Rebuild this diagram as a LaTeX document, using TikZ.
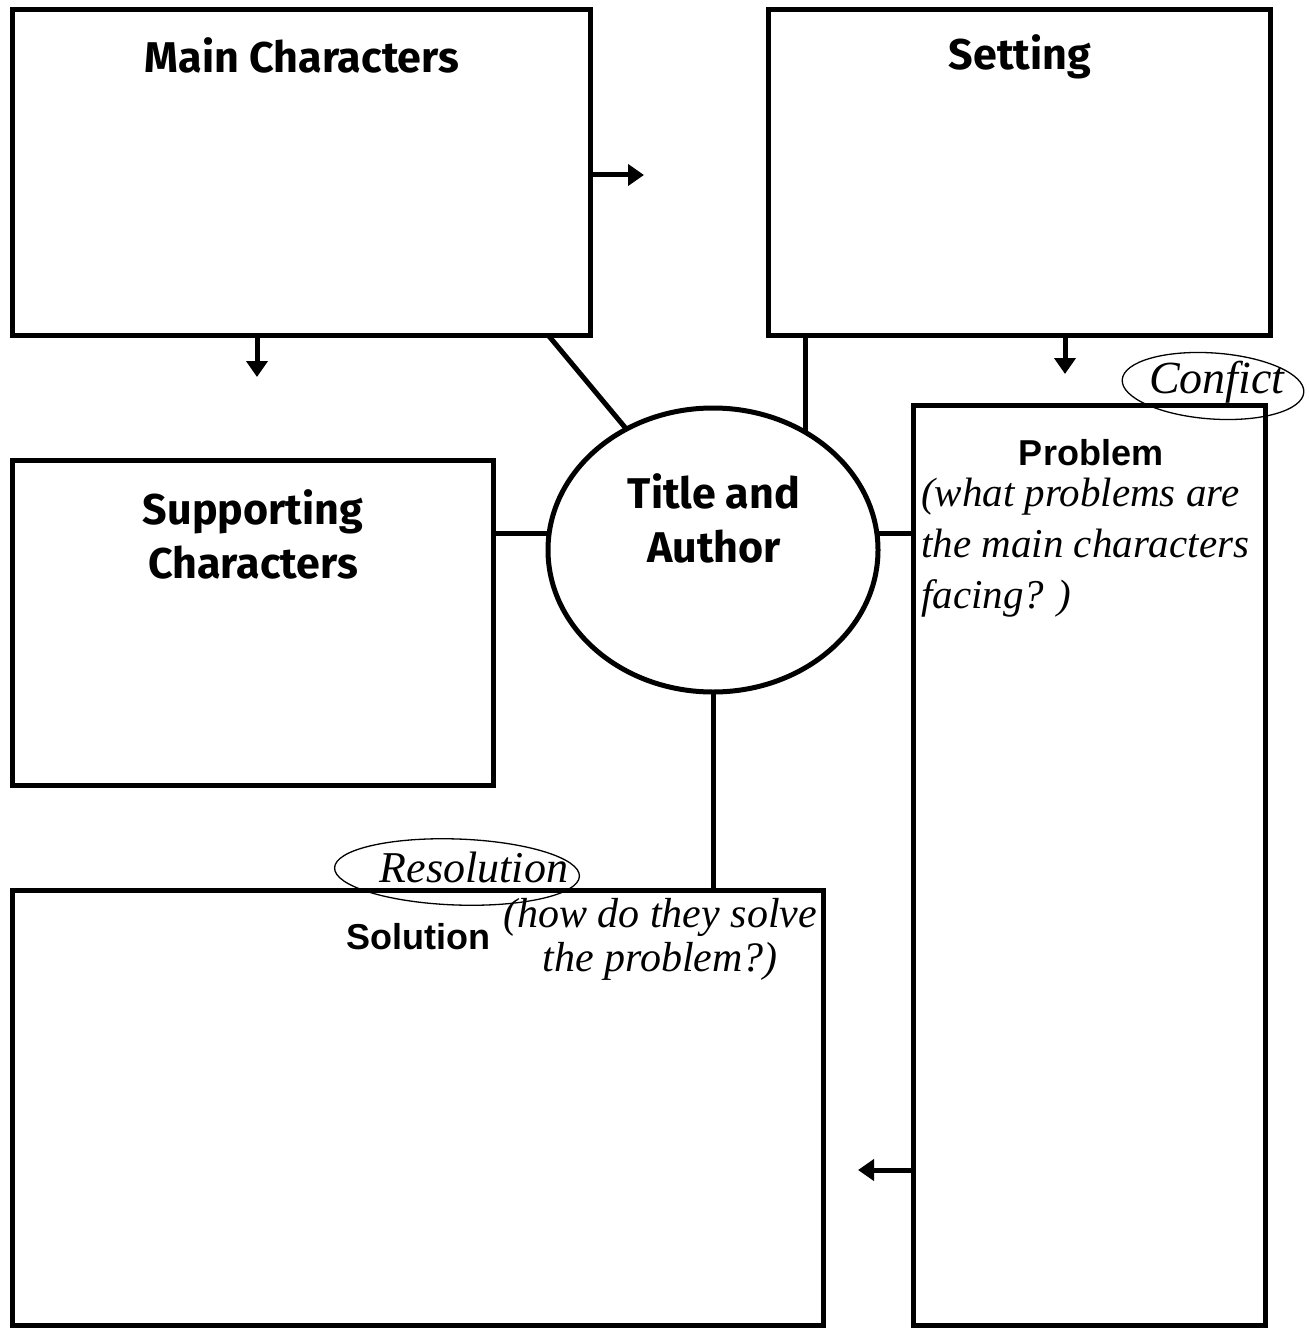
\documentclass[tikz,border=0pt]{standalone}
\usepackage{fontspec}
\setmainfont{Liberation Serif}
\newfontfamily\comicf{Fira Sans}
\newfontfamily\arialf{Liberation Sans}
\newfontfamily\handf{Liberation Serif}
\usetikzlibrary{arrows.meta,calc,shapes.geometric}
\pgfdeclarelayer{bg}
\pgfsetlayers{bg,main}
\begin{document}
\begin{tikzpicture}[x=1pt,y=-1pt,
  box/.style={draw,line width=5pt,rectangle,inner sep=0pt},
  ttl/.style={font=\comicf\bfseries\fontsize{43}{54}\selectfont,align=center,inner sep=0pt},
  ttlb/.style={font=\arialf\bfseries\fontsize{36}{40}\selectfont},
  hand/.style={font=\handf\itshape\fontsize{41}{51}\selectfont,align=left,inner sep=0pt},
  conn/.style={line width=5pt},
  arr/.style={line width=5pt,-{Triangle[length=16pt,width=21pt]}},
  note/.style={draw,line width=1.3pt,ellipse,inner sep=0pt}
]
\useasboundingbox (0,0) rectangle (1308,1332);
% boxes
\node[box,minimum width=578,minimum height=325] (mc) at (301,172.5) {};
\node[box,minimum width=502,minimum height=325] (st) at (1019,172.5) {};
\node[box,minimum width=481,minimum height=325] (sc) at (252.5,622.5) {};
\node[box,minimum width=352,minimum height=920] (pr) at (1089,865) {};
\node[box,minimum width=811,minimum height=435] (so) at (417.5,1107.5) {};
\node[draw,fill=white,line width=5pt,ellipse,minimum width=330,minimum height=284,inner sep=0pt] (ta) at (713,550) {};
% titles
\node[ttl] (tmc) at (302,55) {Main Characters};
\node[ttl] (tst) at (1020,57) {Setting};
\node[ttl] (tsc) at (253,534) {Supporting\\Characters};
\node[ttl] (tta) at (714,518) {Title and\\Author};
\node[ttlb] (tpr) at (1091,453) {Problem};
\node[ttlb] (tso) at (418,937) {Solution};
% connectors to the circle (behind it)
\coordinate (c1) at (548,335);
\coordinate (c2) at (805,335);
\begin{pgfonlayer}{bg}
\draw[conn] (c1) -- ($(c1)!1.2!(623,425)$);
\draw[conn] (c2) -- (c2 |- ta.center);
\draw[conn] (sc.east |- 0,533) -- (ta.center |- 0,533);
\draw[conn] (pr.west |- 0,533) -- (ta.center |- 0,533);
\draw[conn] (ta.center) -- (ta.center |- so.north);
\end{pgfonlayer}
% arrows
\coordinate (a1) at (644,175);
\coordinate (a2) at (257,377);
\coordinate (a3) at (1065,374);
\coordinate (a4) at (858,1170);
\draw[arr] (mc.east |- a1) -- (a1);
\draw[arr] (mc.south -| a2) -- (a2);
\draw[arr] (st.south -| a3) -- (a3);
\draw[arr] (pr.west |- a4) -- (a4);
% handwritten notes
\node[note,minimum width=182,minimum height=66,rotate=-4] (ncf) at (1213,386) {};
\node[hand,font=\handf\itshape\fontsize{46}{46}\selectfont] (tcf) at (1217,382) {Confict};
\node[note,minimum width=245,minimum height=66,rotate=-2] (nrs) at (457,872) {};
\node[hand,font=\handf\itshape\fontsize{44}{44}\selectfont] (trs) at (474,867) {Resolution};
\node[hand,anchor=north west] (hpr) at (921,478) {(what problems are\\the main characters\\facing? )};
\node[hand,anchor=north west,align=center,font=\handf\itshape\fontsize{42}{44}\selectfont] (hso) at (503,898) {(how do they solve\\the problem?)};
\end{tikzpicture}
\end{document}
